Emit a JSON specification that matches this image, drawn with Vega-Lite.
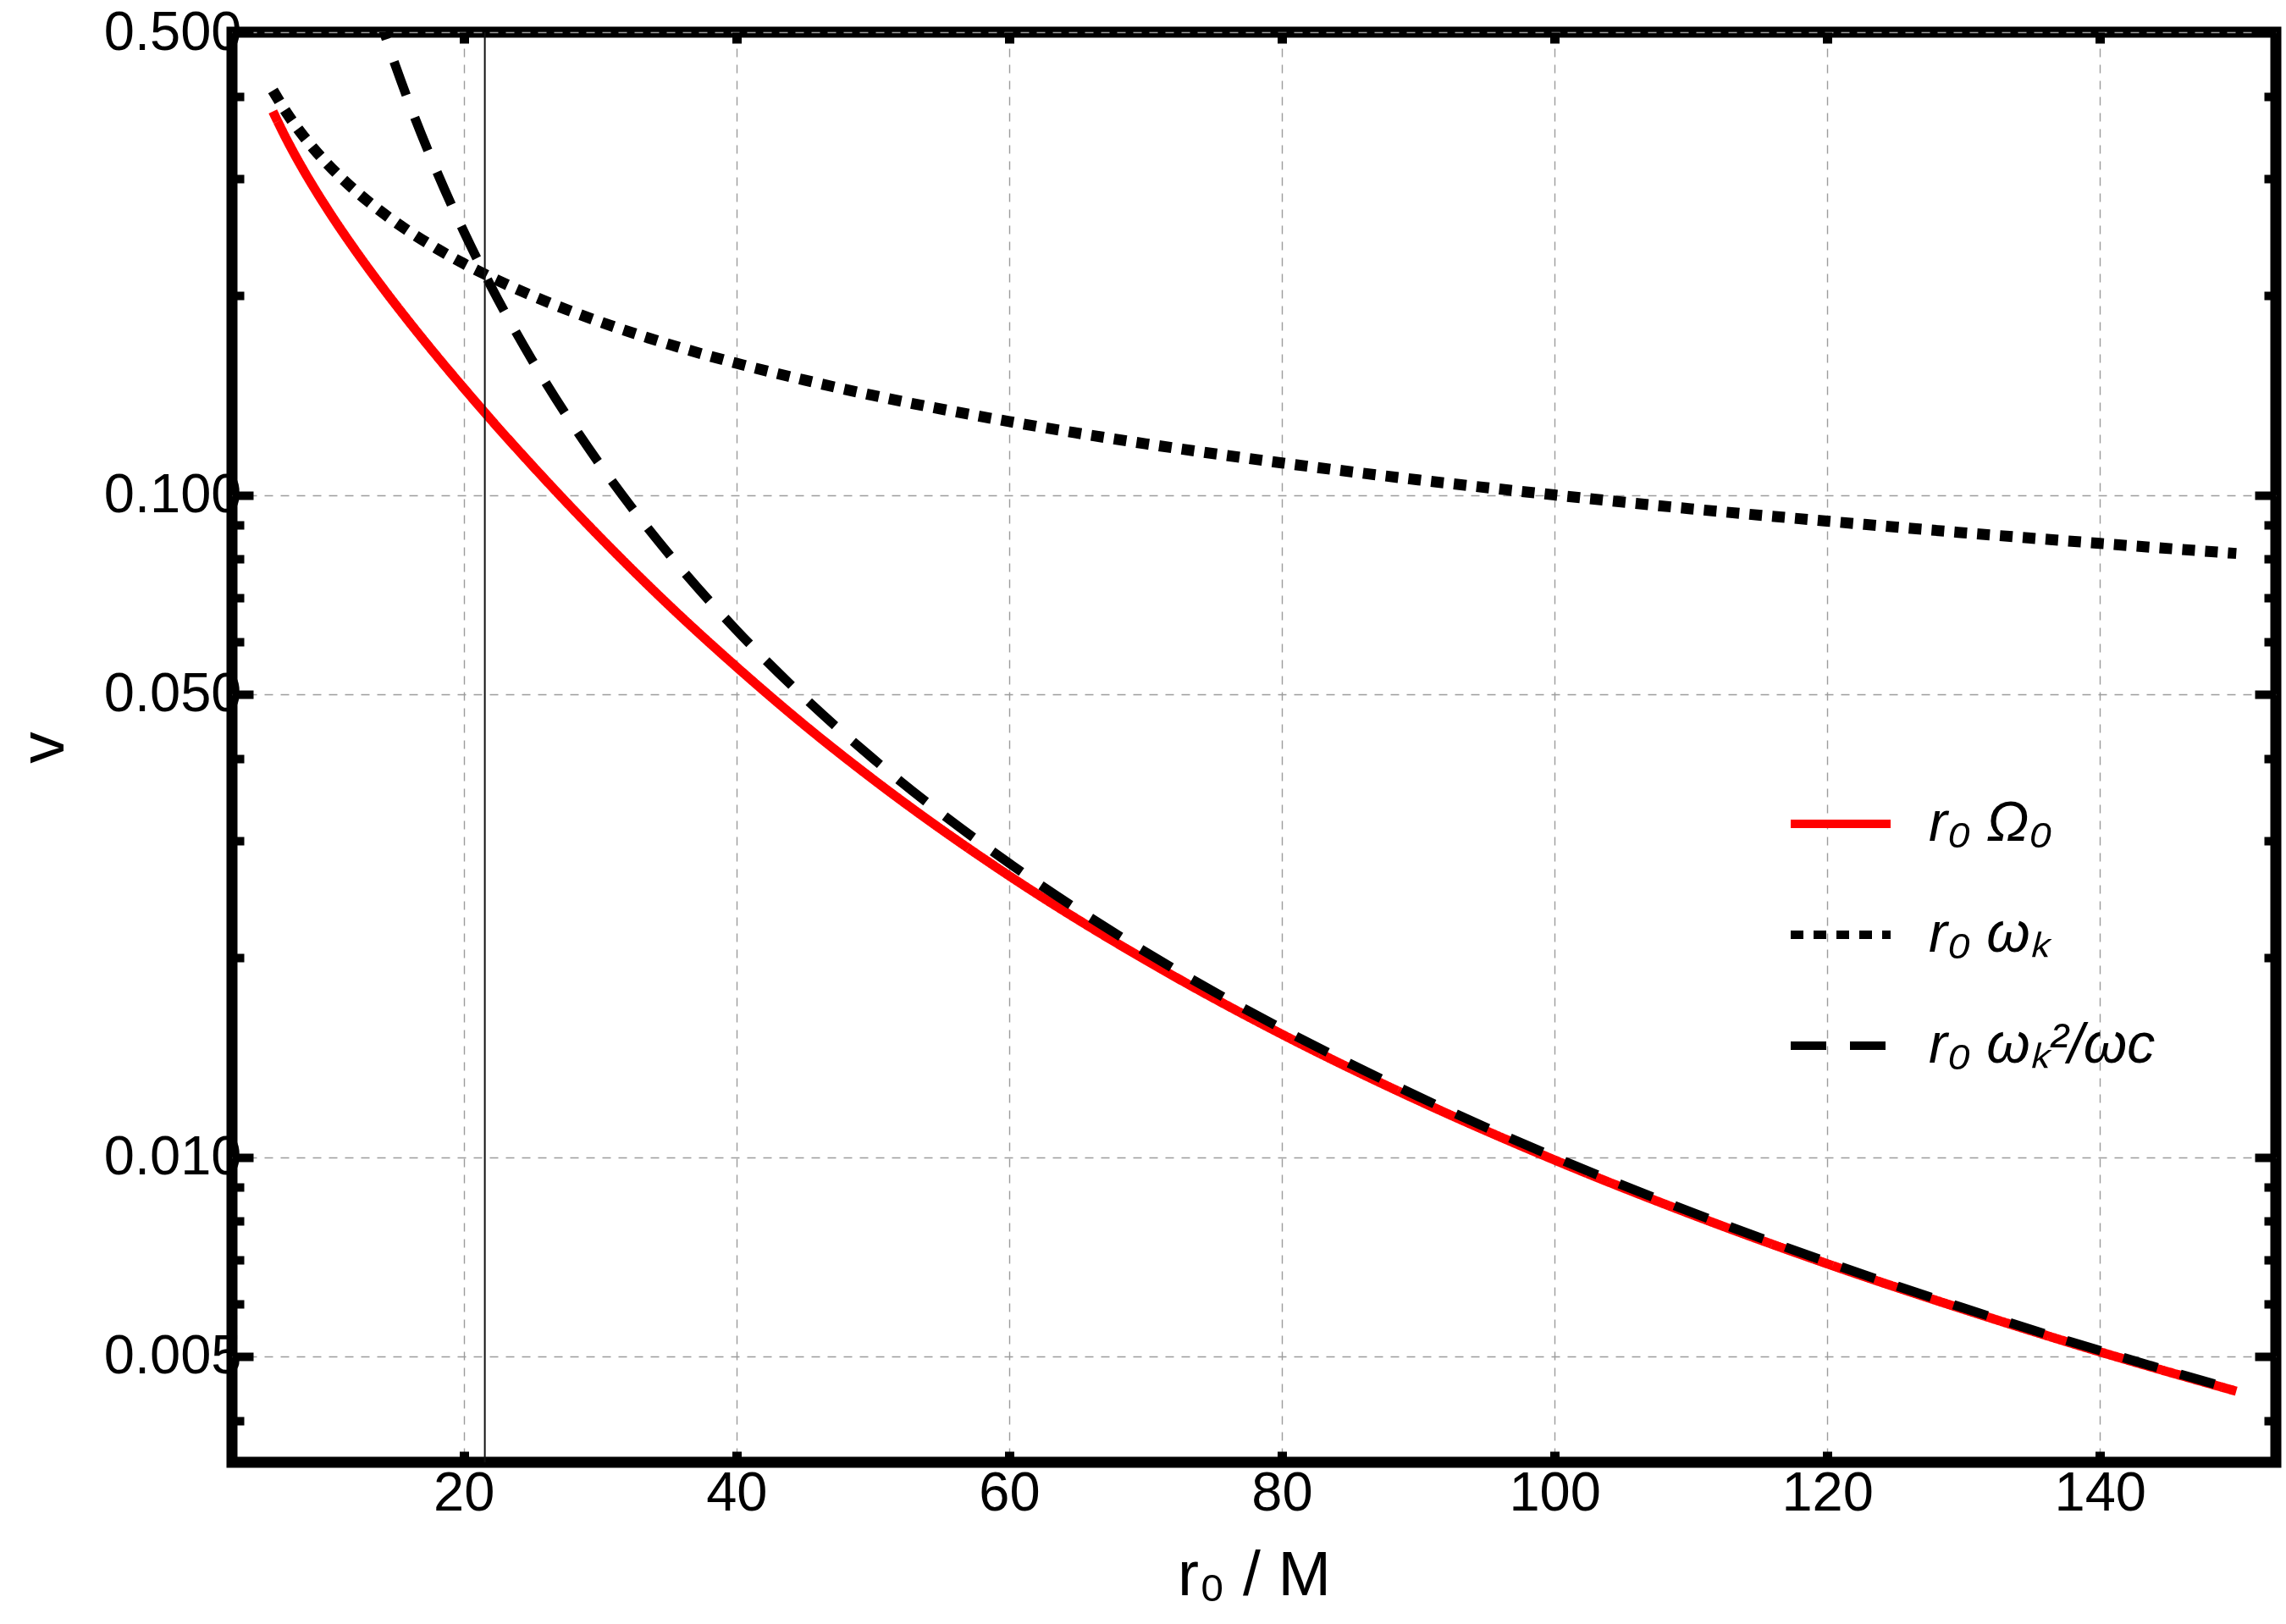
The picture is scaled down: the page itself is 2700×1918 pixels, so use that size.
{
  "$schema": "https://vega.github.io/schema/vega-lite/v6.json",
  "width": 2414,
  "height": 1689,
  "autosize": "none",
  "padding": {"left": 274, "top": 38, "right": 12, "bottom": 191},
  "background": "white",
  "config": {
    "font": "Liberation Sans",
    "view": {"stroke": "black", "strokeWidth": 13},
    "axis": {
      "domain": false,
      "tickColor": "black",
      "tickWidth": 10,
      "labelColor": "black",
      "labelFont": "Liberation Sans",
      "titleFont": "Liberation Sans",
      "titleColor": "black",
      "titleFontWeight": "normal",
      "gridColor": "#9c9c9c",
      "gridDash": [10, 9],
      "gridWidth": 1.4
    },
    "legend": {
      "title": null, "orient": "none", "legendX": 1836, "legendY": 871,
      "symbolType": "stroke", "symbolSize": 13924, "symbolStrokeWidth": 10,
      "labelFontSize": 66, "labelFontStyle": "italic", "labelOffset": 40, "labelLimit": 0,
      "rowPadding": 34, "padding": 0, "labelColor": "black"
    }
  },
  "datasets": {
    "curves": [
      {"r": 6, "v": 0.3794, "s": "r₀ Ω₀"},
      {"r": 7, "v": 0.3446, "s": "r₀ Ω₀"},
      {"r": 8, "v": 0.3158, "s": "r₀ Ω₀"},
      {"r": 9, "v": 0.2914, "s": "r₀ Ω₀"},
      {"r": 10, "v": 0.2702, "s": "r₀ Ω₀"},
      {"r": 12, "v": 0.2349, "s": "r₀ Ω₀"},
      {"r": 14, "v": 0.2063, "s": "r₀ Ω₀"},
      {"r": 16, "v": 0.1825, "s": "r₀ Ω₀"},
      {"r": 18, "v": 0.1623, "s": "r₀ Ω₀"},
      {"r": 20, "v": 0.1450, "s": "r₀ Ω₀"},
      {"r": 22, "v": 0.1299, "s": "r₀ Ω₀"},
      {"r": 25, "v": 0.1109, "s": "r₀ Ω₀"},
      {"r": 30, "v": 0.0863, "s": "r₀ Ω₀"},
      {"r": 35, "v": 0.0683, "s": "r₀ Ω₀"},
      {"r": 40, "v": 0.0550, "s": "r₀ Ω₀"},
      {"r": 45, "v": 0.0449, "s": "r₀ Ω₀"},
      {"r": 50, "v": 0.03723, "s": "r₀ Ω₀"},
      {"r": 60, "v": 0.02660, "s": "r₀ Ω₀"},
      {"r": 70, "v": 0.01985, "s": "r₀ Ω₀"},
      {"r": 80, "v": 0.01533, "s": "r₀ Ω₀"},
      {"r": 90, "v": 0.01218, "s": "r₀ Ω₀"},
      {"r": 100, "v": 0.00990, "s": "r₀ Ω₀"},
      {"r": 110, "v": 0.00820, "s": "r₀ Ω₀"},
      {"r": 120, "v": 0.00690, "s": "r₀ Ω₀"},
      {"r": 130, "v": 0.00589, "s": "r₀ Ω₀"},
      {"r": 140, "v": 0.00508, "s": "r₀ Ω₀"},
      {"r": 150, "v": 0.00443, "s": "r₀ Ω₀"},
      {"r": 6, "v": 0.4082, "s": "r₀ ωₖ"},
      {"r": 7, "v": 0.3780, "s": "r₀ ωₖ"},
      {"r": 8, "v": 0.3536, "s": "r₀ ωₖ"},
      {"r": 9, "v": 0.3333, "s": "r₀ ωₖ"},
      {"r": 10, "v": 0.3162, "s": "r₀ ωₖ"},
      {"r": 12, "v": 0.2887, "s": "r₀ ωₖ"},
      {"r": 14, "v": 0.2673, "s": "r₀ ωₖ"},
      {"r": 16, "v": 0.2500, "s": "r₀ ωₖ"},
      {"r": 18, "v": 0.2357, "s": "r₀ ωₖ"},
      {"r": 20, "v": 0.2236, "s": "r₀ ωₖ"},
      {"r": 22, "v": 0.2132, "s": "r₀ ωₖ"},
      {"r": 25, "v": 0.2000, "s": "r₀ ωₖ"},
      {"r": 30, "v": 0.1826, "s": "r₀ ωₖ"},
      {"r": 35, "v": 0.1690, "s": "r₀ ωₖ"},
      {"r": 40, "v": 0.1581, "s": "r₀ ωₖ"},
      {"r": 45, "v": 0.1491, "s": "r₀ ωₖ"},
      {"r": 50, "v": 0.1414, "s": "r₀ ωₖ"},
      {"r": 60, "v": 0.1291, "s": "r₀ ωₖ"},
      {"r": 70, "v": 0.1195, "s": "r₀ ωₖ"},
      {"r": 80, "v": 0.1118, "s": "r₀ ωₖ"},
      {"r": 90, "v": 0.1054, "s": "r₀ ωₖ"},
      {"r": 100, "v": 0.1000, "s": "r₀ ωₖ"},
      {"r": 110, "v": 0.0953, "s": "r₀ ωₖ"},
      {"r": 120, "v": 0.0913, "s": "r₀ ωₖ"},
      {"r": 130, "v": 0.0877, "s": "r₀ ωₖ"},
      {"r": 140, "v": 0.0845, "s": "r₀ ωₖ"},
      {"r": 150, "v": 0.0816, "s": "r₀ ωₖ"},
      {"r": 13.5, "v": 0.5487, "s": "r₀ ωₖ²/ωc"},
      {"r": 14, "v": 0.5102, "s": "r₀ ωₖ²/ωc"},
      {"r": 15, "v": 0.4444, "s": "r₀ ωₖ²/ωc"},
      {"r": 16, "v": 0.3906, "s": "r₀ ωₖ²/ωc"},
      {"r": 18, "v": 0.3086, "s": "r₀ ωₖ²/ωc"},
      {"r": 20, "v": 0.2500, "s": "r₀ ωₖ²/ωc"},
      {"r": 22, "v": 0.2066, "s": "r₀ ωₖ²/ωc"},
      {"r": 25, "v": 0.1600, "s": "r₀ ωₖ²/ωc"},
      {"r": 30, "v": 0.1111, "s": "r₀ ωₖ²/ωc"},
      {"r": 35, "v": 0.08163, "s": "r₀ ωₖ²/ωc"},
      {"r": 40, "v": 0.0625, "s": "r₀ ωₖ²/ωc"},
      {"r": 45, "v": 0.04938, "s": "r₀ ωₖ²/ωc"},
      {"r": 50, "v": 0.0400, "s": "r₀ ωₖ²/ωc"},
      {"r": 60, "v": 0.02778, "s": "r₀ ωₖ²/ωc"},
      {"r": 70, "v": 0.02041, "s": "r₀ ωₖ²/ωc"},
      {"r": 80, "v": 0.015625, "s": "r₀ ωₖ²/ωc"},
      {"r": 90, "v": 0.012346, "s": "r₀ ωₖ²/ωc"},
      {"r": 100, "v": 0.0100, "s": "r₀ ωₖ²/ωc"},
      {"r": 110, "v": 0.008264, "s": "r₀ ωₖ²/ωc"},
      {"r": 120, "v": 0.006944, "s": "r₀ ωₖ²/ωc"},
      {"r": 130, "v": 0.005917, "s": "r₀ ωₖ²/ωc"},
      {"r": 140, "v": 0.005102, "s": "r₀ ωₖ²/ωc"},
      {"r": 150, "v": 0.004444, "s": "r₀ ωₖ²/ωc"}
    ],
    "marker": [{"r": 21.544}]
  },
  "resolve": {"axis": {"x": "independent", "y": "independent"}},
  "layer": [
    {
      "data": {"name": "curves"},
      "transform": [{"filter": "datum.s === 'r₀ Ω₀'"}],
      "mark": {"type": "line", "strokeWidth": 11, "interpolate": "monotone", "clip": true},
      "encoding": {
        "x": {
          "field": "r", "type": "quantitative",
          "scale": {"domain": [3.0, 152.9], "nice": false, "zero": false},
          "axis": {
            "orient": "bottom", "values": [20, 40, 60, 80, 100, 120, 140],
            "tickSize": -13, "tickWidth": 11, "labelPadding": 18, "labelFontSize": 65,
            "grid": true, "title": "r₀ / M", "titleFontSize": 75, "titlePadding": 28
          }
        },
        "y": {
          "field": "v", "type": "quantitative",
          "scale": {"type": "log", "domain": [0.00346, 0.5], "nice": false},
          "axis": {
            "orient": "left", "values": [0.005, 0.01, 0.05, 0.1, 0.5], "format": ".3f",
            "tickSize": -25, "labelPadding": 14, "labelFontSize": 65,
            "grid": true, "title": "v", "titleFontSize": 75, "titlePadding": 32
          }
        },
        "color": {
          "field": "s", "type": "nominal",
          "scale": {"domain": ["r₀ Ω₀", "r₀ ωₖ", "r₀ ωₖ²/ωc"], "range": ["#ff0000", "#000000", "#000000"]}
        },
        "strokeDash": {
          "field": "s", "type": "nominal",
          "scale": {"domain": ["r₀ Ω₀", "r₀ ωₖ", "r₀ ωₖ²/ωc"], "range": [[1, 0], [15, 12], [42, 28]]}
        }
      }
    },
    {
      "data": {"name": "curves"},
      "transform": [{"filter": "datum.s === 'r₀ ωₖ'"}],
      "mark": {"type": "line", "strokeWidth": 13, "interpolate": "monotone", "clip": true},
      "encoding": {
        "x": {"field": "r", "type": "quantitative", "scale": {"domain": [3.0, 152.9], "nice": false, "zero": false}, "axis": null},
        "y": {"field": "v", "type": "quantitative", "scale": {"type": "log", "domain": [0.00346, 0.5], "nice": false}, "axis": null},
        "color": {
          "field": "s", "type": "nominal",
          "scale": {"domain": ["r₀ Ω₀", "r₀ ωₖ", "r₀ ωₖ²/ωc"], "range": ["#ff0000", "#000000", "#000000"]}
        },
        "strokeDash": {
          "field": "s", "type": "nominal",
          "scale": {"domain": ["r₀ Ω₀", "r₀ ωₖ", "r₀ ωₖ²/ωc"], "range": [[1, 0], [15, 12], [42, 28]]}
        }
      }
    },
    {
      "data": {"name": "curves"},
      "transform": [{"filter": "datum.s === 'r₀ ωₖ²/ωc'"}],
      "mark": {"type": "line", "strokeWidth": 11, "interpolate": "monotone", "clip": true},
      "encoding": {
        "x": {"field": "r", "type": "quantitative", "scale": {"domain": [3.0, 152.9], "nice": false, "zero": false}, "axis": null},
        "y": {"field": "v", "type": "quantitative", "scale": {"type": "log", "domain": [0.00346, 0.5], "nice": false}, "axis": null},
        "color": {
          "field": "s", "type": "nominal",
          "scale": {"domain": ["r₀ Ω₀", "r₀ ωₖ", "r₀ ωₖ²/ωc"], "range": ["#ff0000", "#000000", "#000000"]}
        },
        "strokeDash": {
          "field": "s", "type": "nominal",
          "scale": {"domain": ["r₀ Ω₀", "r₀ ωₖ", "r₀ ωₖ²/ωc"], "range": [[1, 0], [15, 12], [42, 28]]}
        }
      }
    },
    {
      "data": {"name": "marker"},
      "mark": {"type": "rule", "color": "#111111", "strokeWidth": 2},
      "encoding": {
        "x": {
          "field": "r", "type": "quantitative",
          "scale": {"domain": [3.0, 152.9], "nice": false, "zero": false},
          "axis": {
            "orient": "top", "values": [20, 40, 60, 80, 100, 120, 140],
            "tickSize": -13, "tickWidth": 11, "labels": false, "grid": false, "title": null
          }
        }
      }
    },
    {
      "data": {"name": "curves"},
      "mark": {"type": "point", "opacity": 0},
      "encoding": {
        "x": {"field": "r", "type": "quantitative", "scale": {"domain": [3.0, 152.9], "nice": false, "zero": false}, "axis": null},
        "y": {
          "field": "v", "type": "quantitative",
          "scale": {"type": "log", "domain": [0.00346, 0.5], "nice": false},
          "axis": {
            "orient": "left",
            "values": [0.004, 0.006, 0.007, 0.008, 0.009, 0.02, 0.03, 0.04, 0.06, 0.07, 0.08, 0.09, 0.2, 0.3, 0.4],
            "tickSize": -14, "labels": false, "grid": false, "title": null
          }
        }
      }
    },
    {
      "data": {"name": "curves"},
      "mark": {"type": "point", "opacity": 0},
      "encoding": {
        "x": {"field": "r", "type": "quantitative", "scale": {"domain": [3.0, 152.9], "nice": false, "zero": false}, "axis": null},
        "y": {
          "field": "v", "type": "quantitative",
          "scale": {"type": "log", "domain": [0.00346, 0.5], "nice": false},
          "axis": {
            "orient": "right", "values": [0.005, 0.01, 0.05, 0.1, 0.5],
            "tickSize": -25, "labels": false, "grid": false, "title": null
          }
        }
      }
    },
    {
      "data": {"name": "curves"},
      "mark": {"type": "point", "opacity": 0},
      "encoding": {
        "x": {"field": "r", "type": "quantitative", "scale": {"domain": [3.0, 152.9], "nice": false, "zero": false}, "axis": null},
        "y": {
          "field": "v", "type": "quantitative",
          "scale": {"type": "log", "domain": [0.00346, 0.5], "nice": false},
          "axis": {
            "orient": "right",
            "values": [0.004, 0.006, 0.007, 0.008, 0.009, 0.02, 0.03, 0.04, 0.06, 0.07, 0.08, 0.09, 0.2, 0.3, 0.4],
            "tickSize": -14, "labels": false, "grid": false, "title": null
          }
        }
      }
    }
  ]
}
